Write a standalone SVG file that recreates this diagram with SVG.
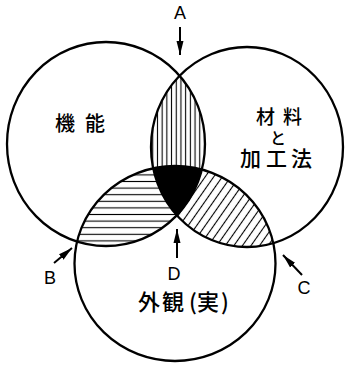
<svg xmlns="http://www.w3.org/2000/svg" width="347" height="367" viewBox="0 0 347 367">
<style>
.ring{fill:none;stroke:#000;stroke-width:2.3}
.cjk{font-family:"Noto Sans CJK JP","Noto Sans CJK SC",sans-serif;fill:#000;font-weight:500}
.lat{font-family:"Liberation Sans",Arial,sans-serif;font-size:18px;fill:#000;text-anchor:middle}
.hl{stroke:#000;stroke-width:1.1}
.arr{stroke:#000;stroke-width:2;fill:none}
</style>
<defs>
<clipPath id="cL"><ellipse cx="106" cy="144" rx="99" ry="102"/></clipPath>
<clipPath id="cR"><ellipse cx="247" cy="147" rx="96" ry="100"/></clipPath>
<clipPath id="cB"><ellipse cx="175" cy="263.5" rx="100.5" ry="97.5"/></clipPath>
<pattern id="pV" patternUnits="userSpaceOnUse" width="4.7" height="10"><line class="hl" x1="2.35" y1="0" x2="2.35" y2="10"/></pattern>
<pattern id="pH" patternUnits="userSpaceOnUse" width="10" height="6.6"><line class="hl" x1="0" y1="3.3" x2="10" y2="3.3"/></pattern>
<pattern id="pD" patternUnits="userSpaceOnUse" width="7" height="10" patternTransform="rotate(35)"><line class="hl" x1="3.5" y1="0" x2="3.5" y2="10"/></pattern>
<marker id="ah" markerUnits="userSpaceOnUse" markerWidth="15" markerHeight="9" refX="14" refY="4.5" orient="auto"><path d="M0,1 L14,4.5 L0,8 z" fill="#000"/></marker>
</defs>
<g id="fills">
<g clip-path="url(#cL)"><rect x="0" y="0" width="347" height="367" fill="url(#pV)" clip-path="url(#cR)"/></g>
<g clip-path="url(#cL)"><rect x="0" y="0" width="347" height="367" fill="url(#pH)" clip-path="url(#cB)"/></g>
<g clip-path="url(#cR)"><rect x="0" y="0" width="347" height="367" fill="url(#pD)" clip-path="url(#cB)"/></g>
<g clip-path="url(#cL)"><g clip-path="url(#cR)"><rect x="0" y="0" width="347" height="367" fill="#000" clip-path="url(#cB)"/></g></g>
</g>
<g id="kinou">
<ellipse class="ring" cx="106" cy="144" rx="99" ry="102"/>
<text class="cjk" font-size="20" x="55 85" y="131">機能</text>
</g>
<g id="zairyou">
<ellipse class="ring" cx="247" cy="147" rx="96" ry="100"/>
<text class="cjk" font-size="19" x="256 283" y="124">材料</text>
<text class="cjk" font-size="16" x="270" y="144">と</text>
<text class="cjk" font-size="21" x="240 266 291" y="166">加工法</text>
</g>
<g id="gaikan">
<ellipse class="ring" cx="175" cy="263.5" rx="100.5" ry="97.5"/>
<text class="cjk" font-size="22" x="138 162 189 197 221" y="310">外観(実)</text>
</g>
<g id="connectors">
<line class="arr" x1="180" y1="27" x2="180" y2="55" marker-end="url(#ah)"/>
<line class="arr" x1="54" y1="263" x2="72" y2="248" marker-end="url(#ah)"/>
<line class="arr" x1="302" y1="275" x2="283" y2="255" marker-end="url(#ah)"/>
<line class="arr" x1="177" y1="258" x2="177" y2="229" marker-end="url(#ah)"/>
</g>
<g id="labels">
<text class="lat" x="180" y="19">A</text>
<text class="lat" x="50" y="284">B</text>
<text class="lat" x="304" y="294">C</text>
<text class="lat" x="174" y="280">D</text>
</g>
</svg>
